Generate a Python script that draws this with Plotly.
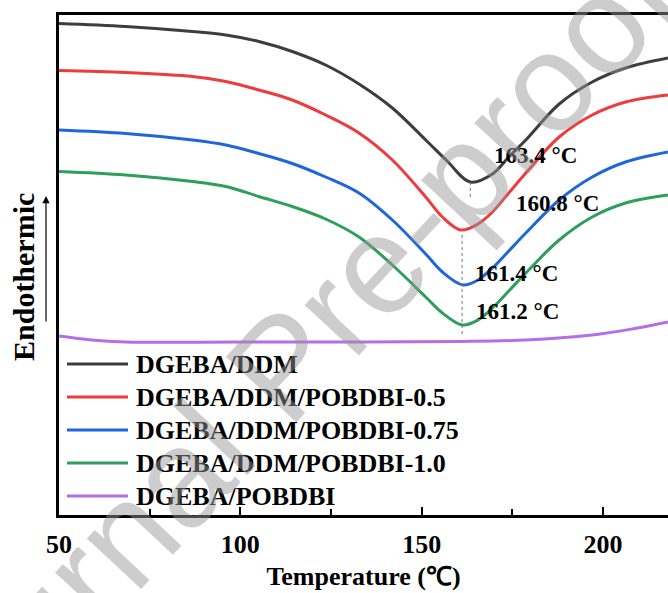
import plotly.graph_objects as go

# ---------------- data ----------------
series_names = ["DGEBA/DDM", "DGEBA/DDM/POBDBI-0.5", "DGEBA/DDM/POBDBI-0.75",
                "DGEBA/DDM/POBDBI-1.0", "DGEBA/POBDBI"]

t_ddm = [50, 68.4, 86.8, 96, 105.1, 114.3, 123.5, 132.7, 141.9, 151.1, 157, 163.4, 169.5, 174,
         178.7, 187.9, 197, 206.2, 217.9]
hf_ddm = [98.3, 97.7, 96.7, 96.0, 94.7, 92.7, 90.0, 86.2, 81.4, 75.0, 70.8, 66.6, 68.2, 71.6,
          75.0, 82.2, 86.6, 89.4, 91.4]

t_05 = [50, 68.4, 86.8, 96, 105.1, 114.3, 123.5, 132.7, 141.9, 151.1, 155.7, 160.8, 165.5, 169.5,
        174, 178.7, 187.9, 197, 206.2, 217.9]
hf_05 = [88.9, 88.5, 87.7, 86.7, 85.0, 83.0, 80.0, 76.4, 71.0, 63.6, 59.6, 57.0, 58.2, 60.6,
         64.4, 68.4, 75.6, 80.0, 82.6, 84.0]

t_075 = [50, 68.4, 86.8, 96, 105.1, 114.3, 123.5, 132.7, 141.9, 151.1, 155.7, 161.4, 165.5, 169.5,
         174, 178.7, 187.9, 197, 206.2, 217.9]
hf_075 = [77.0, 76.3, 75.0, 74.0, 72.3, 70.3, 67.6, 64.4, 59.0, 52.2, 48.6, 46.0, 47.0, 49.4,
          52.8, 56.4, 63.0, 67.6, 70.6, 72.6]

t_10 = [50, 68.4, 86.8, 96, 105.1, 114.3, 123.5, 132.7, 141.9, 151.1, 155.7, 161.2, 165.5, 169.5,
        174, 178.7, 187.9, 197, 206.2, 217.9]
hf_10 = [68.7, 68.0, 66.7, 65.7, 63.7, 61.7, 59.2, 55.6, 50.0, 43.6, 40.4, 38.0, 39.0, 41.4,
         44.8, 48.4, 55.0, 59.6, 62.4, 64.0]

t_pob = [50, 59, 68.4, 100, 132.7, 160, 178.7, 197, 208, 217.9]
hf_pob = [35.8, 35.0, 34.6, 34.6, 34.6, 34.7, 35.0, 36.0, 37.2, 38.6]

peak_temps = [163.4, 160.8, 161.4, 161.2]
x_ticks = [50, 100, 150, 200]

# ---------------- styling ----------------
colors = ["#3d3d3d", "#ee3b3b", "#1f66dc", "#2e9e5b", "#b46fe6"]
serif = "Liberation Serif"
all_t = [t_ddm, t_05, t_075, t_10, t_pob]
all_hf = [hf_ddm, hf_05, hf_075, hf_10, hf_pob]

W, H = 668, 593
ml, mr, mt, mb = 59, 0, 15, 78
pw, ph = W - ml - mr, H - mt - mb


def px(xp):
    return (xp - ml) / pw


def py(yp):
    return (H - mb - yp) / ph


fig = go.Figure()
for name, t, hf, c in zip(series_names, all_t, all_hf, colors):
    fig.add_trace(go.Scatter(x=t, y=hf, mode="lines", name=name,
                             line=dict(color=c, width=3, shape="spline", smoothing=1.0),
                             showlegend=False))

shapes = []
annotations = []

# peak markers (dashed) and labels
peak_vals = [min(hf) for hf in all_hf[:4]]
shapes.append(dict(type="line", xref="x", yref="y", x0=peak_temps[0], x1=peak_temps[0],
                   y0=peak_vals[0], y1=peak_vals[0] - 3.2,
                   line=dict(color="#777777", width=1, dash="dot")))
mid_t = sum(peak_temps[1:]) / 3
shapes.append(dict(type="line", xref="x", yref="y", x0=mid_t, x1=mid_t,
                   y0=peak_vals[1] - 1.0, y1=peak_vals[3] - 2.4,
                   line=dict(color="#777777", width=1, dash="dot")))

offsets = [(22, 27), (53, 27), (10, 12), (12, 14)]
for t, v, (dx, dy) in zip(peak_temps, peak_vals, offsets):
    annotations.append(dict(x=t, y=v, xref="x", yref="y", text=f"{t} °C", showarrow=False,
                            xanchor="left", yanchor="middle", xshift=dx, yshift=dy,
                            font=dict(family=serif, size=23, color="black", weight="bold")))

# manual legend
row_y = [364, 397, 430, 463, 496]
for name, c, ry in zip(series_names, colors, row_y):
    shapes.append(dict(type="line", xref="paper", yref="paper", x0=px(67), x1=px(128),
                       y0=py(ry), y1=py(ry), line=dict(color=c, width=3)))
    annotations.append(dict(x=px(134), y=py(ry), xref="paper", yref="paper", text=name,
                            showarrow=False, xanchor="left", yanchor="middle",
                            font=dict(family=serif, size=26, color="black", weight="bold")))

# y label and arrow
annotations.append(dict(x=px(23), y=py(277), xref="paper", yref="paper", text="Endothermic",
                        textangle=-90, showarrow=False, xanchor="center", yanchor="middle",
                        font=dict(family=serif, size=30, color="black", weight="bold")))
annotations.append(dict(x=px(46), y=py(196), xref="paper", yref="paper", text="",
                        showarrow=True, ax=0, ay=127, axref="pixel", ayref="pixel",
                        arrowhead=2, arrowsize=1.2, arrowwidth=1.2, arrowcolor="black"))

# watermark
annotations.append(dict(x=px(282), y=py(366), xref="paper", yref="paper", text="Journal Pre-proof",
                        textangle=-47, showarrow=False, xanchor="center", yanchor="middle",
                        font=dict(family="Liberation Sans", size=140,
                                  color="rgba(150,150,150,0.48)")))

fig.update_layout(
    width=W, height=H,
    margin=dict(l=ml, r=mr, t=mt, b=mb),
    paper_bgcolor="white", plot_bgcolor="white",
    shapes=shapes, annotations=annotations,
    xaxis=dict(range=[50, 217.9], tickvals=x_ticks, ticktext=[str(v) for v in x_ticks],
               ticks="inside", ticklen=8, tickwidth=2, tickcolor="black",
               showline=True, linewidth=2.5, linecolor="black", mirror=True,
               showgrid=False, zeroline=False, ticklabelstandoff=4,
               minor=dict(ticks="inside", ticklen=6, tickwidth=2, tickcolor="black",
                          dtick=25, tick0=50, showgrid=False),
               tickfont=dict(family=serif, size=26, color="black", weight="bold"),
               title=dict(text="Temperature (℃)", standoff=9,
                          font=dict(family=serif, size=26, color="black", weight="bold"))),
    yaxis=dict(range=[0, 100], showticklabels=False, ticks="", showgrid=False, zeroline=False,
               showline=True, linewidth=2.5, linecolor="black", mirror=False),
)

fig.write_html("out.html", config={"displayModeBar": False},
               post_script="document.body.style.margin='0';")
